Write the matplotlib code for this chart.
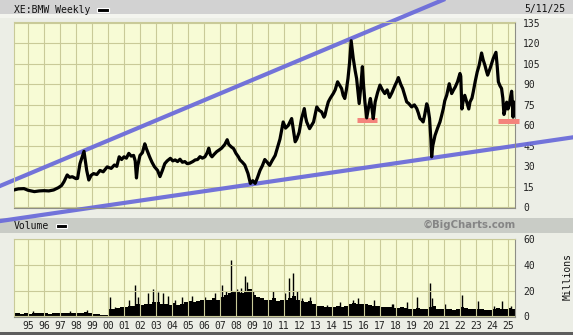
import matplotlib
matplotlib.use("Agg")
import matplotlib.pyplot as plt
from matplotlib.patches import Rectangle
import numpy as np

# weekly close (decimal year, EUR)
price_t = [1994.12, 1994.4, 1994.75, 1995.0, 1995.4, 1995.7, 1996.0, 1996.3, 1996.6, 1996.9,
           1997.1, 1997.25, 1997.45, 1997.6, 1997.77, 1998.0, 1998.1, 1998.25, 1998.4, 1998.5,
           1998.6, 1998.67, 1998.8, 1998.95, 1999.1, 1999.3, 1999.5, 1999.7, 1999.95, 2000.2,
           2000.4, 2000.55, 2000.7, 2000.85, 2001.0, 2001.15, 2001.3, 2001.45, 2001.6, 2001.7,
           2001.78, 2001.85, 2002.0, 2002.15, 2002.3, 2002.4, 2002.6, 2002.75, 2002.9, 2003.1,
           2003.25, 2003.4, 2003.55, 2003.7, 2003.9, 2004.05, 2004.2, 2004.35, 2004.5, 2004.65,
           2004.8, 2004.95, 2005.1, 2005.3, 2005.45, 2005.6, 2005.75, 2005.9, 2006.06, 2006.2,
           2006.3, 2006.4, 2006.5, 2006.65, 2006.8, 2006.95, 2007.1, 2007.3, 2007.45, 2007.55,
           2007.7, 2007.85, 2008.0, 2008.15, 2008.25, 2008.4, 2008.55, 2008.65, 2008.75, 2008.9,
           2009.05, 2009.2, 2009.35, 2009.5, 2009.65, 2009.8, 2009.95, 2010.1, 2010.25, 2010.45,
           2010.6, 2010.75, 2010.95, 2011.1, 2011.27, 2011.4, 2011.48, 2011.6, 2011.7, 2011.8,
           2011.95, 2012.1, 2012.27, 2012.35, 2012.42, 2012.6, 2012.72, 2012.85, 2012.95, 2013.05,
           2013.2, 2013.35, 2013.5, 2013.56, 2013.65, 2013.77, 2013.9, 2014.08, 2014.2, 2014.35,
           2014.5, 2014.6, 2014.7, 2014.8, 2014.9, 2015.0, 2015.1, 2015.2, 2015.27, 2015.33,
           2015.45, 2015.54, 2015.62, 2015.7, 2015.8, 2015.9, 2015.97, 2016.06, 2016.17, 2016.3,
           2016.4, 2016.5, 2016.58, 2016.7, 2016.85, 2017.0, 2017.15, 2017.3, 2017.45, 2017.6,
           2017.75, 2017.94, 2018.05, 2018.15, 2018.3, 2018.42, 2018.55, 2018.67, 2018.8, 2018.98,
           2019.15, 2019.3, 2019.4, 2019.5, 2019.6, 2019.7, 2019.8, 2019.92, 2020.0, 2020.1,
           2020.18, 2020.23, 2020.3, 2020.44, 2020.6, 2020.75, 2020.85, 2020.96, 2021.05, 2021.17,
           2021.33, 2021.48, 2021.6, 2021.7, 2021.85, 2022.0, 2022.05, 2022.12, 2022.2, 2022.3,
           2022.45, 2022.55, 2022.63, 2022.75, 2022.83, 2022.95, 2023.08, 2023.2, 2023.35, 2023.45,
           2023.56, 2023.65, 2023.73, 2023.8, 2023.88, 2024.0, 2024.08, 2024.25, 2024.33, 2024.4,
           2024.5, 2024.6, 2024.68, 2024.75, 2024.85, 2024.92, 2025.0, 2025.08, 2025.18, 2025.23,
           2025.28, 2025.32, 2025.36]
price = [12.7, 13.5, 13.7, 12.5, 11.5, 12.0, 12.2, 12.0, 12.7, 14.4,
         16.0, 18.8, 23.7, 22.0, 22.4, 21.0, 21.2, 32.0, 37.5, 41.0,
         33.0, 27.0, 20.0, 23.5, 24.7, 24.0, 27.0, 26.0, 29.6, 28.5,
         31.0, 30.0, 37.0, 35.0, 37.0, 36.0, 39.5, 37.5, 38.0, 34.0,
         21.5, 30.0, 38.0, 40.0, 46.5, 43.0, 37.0, 33.0, 29.8, 27.0,
         22.5, 27.0, 32.0, 34.0, 35.9, 34.0, 34.7, 33.5, 35.2, 33.0,
         33.5, 32.0, 32.3, 33.5, 34.7, 35.0, 37.1, 36.0, 37.0, 40.0,
         43.3, 38.5, 37.0, 39.0, 40.8, 42.0, 43.3, 46.0, 49.5, 46.0,
         44.3, 43.0, 39.5, 37.0, 34.7, 33.0, 31.0, 28.0, 24.8, 17.5,
         19.5, 17.5, 22.0, 27.0, 30.5, 35.0, 33.0, 30.7, 34.0, 38.0,
         44.0, 50.0, 62.5, 58.0, 60.0, 63.0, 65.0, 56.0, 48.0, 50.0,
         55.0, 65.0, 72.3, 66.0, 62.5, 57.6, 60.0, 62.5, 68.0, 73.5,
         71.0, 69.9, 66.0, 67.4, 72.0, 77.2, 80.0, 83.3, 86.0, 91.9,
         89.0, 87.0, 82.0, 79.7, 86.0, 94.3, 106.0, 122.0, 115.0, 109.0,
         100.0, 94.3, 85.0, 76.0, 88.0, 103.0, 90.0, 77.0, 65.5, 74.0,
         79.7, 72.3, 65.0, 77.2, 84.0, 89.5, 86.0, 83.3, 86.0, 80.5,
         84.0, 89.3, 92.0, 95.0, 90.0, 87.0, 82.0, 77.2, 76.0, 73.5,
         75.0, 72.3, 69.0, 65.0, 64.0, 62.5, 68.0, 75.8, 73.0, 65.0,
         50.0, 37.0, 45.0, 52.6, 58.0, 62.5, 67.0, 72.3, 78.0, 82.0,
         90.5, 83.3, 86.0, 88.0, 92.0, 98.0, 96.0, 72.0, 78.0, 82.0,
         76.0, 72.0, 77.2, 80.0, 84.5, 92.0, 99.2, 104.0, 113.0, 108.0,
         104.0, 100.0, 96.8, 99.0, 101.6, 106.0, 109.0, 113.5, 103.0, 91.9,
         89.0, 87.0, 80.0, 68.0, 73.0, 77.0, 72.0, 74.6, 82.0, 85.0,
         76.0, 66.0, 77.0]

# volume, millions: quarterly base level from 1994 Q1
vol_start = 1994.0
vol_level = [2.5, 2.8, 2.2, 2.5, 2.3, 2.6, 2.4, 2.8, 2.5, 2.3, 2.6, 2.4,
             2.7, 3.0, 2.5, 2.6, 2.8, 3.0, 3.2, 2.7, 2.0, 1.8, 1.4, 1.2,
             6.0, 5.5, 6.5, 7.0, 7.0, 8.0, 8.5, 10.0, 9.0, 10.0, 9.5, 11.0,
             11.0, 9.5, 10.0, 9.0, 10.5, 9.0, 10.0, 11.0, 12.0, 11.0, 12.0, 13.0,
             13.0, 12.5, 14.0, 13.0, 15.0, 17.0, 18.0, 19.0, 20.0, 18.0, 19.0, 21.0,
             17.0, 15.0, 14.0, 13.0, 13.0, 14.0, 12.0, 12.5, 13.0, 14.0, 16.0, 13.0,
             12.0, 11.5, 12.0, 10.0, 8.0, 8.0, 7.5, 7.0, 7.5, 8.0, 7.5, 8.5,
             10.0, 10.5, 10.0, 9.5, 9.5, 9.0, 8.5, 8.0, 7.5, 7.0, 7.0, 6.5,
             6.5, 7.0, 6.5, 6.0, 6.0, 6.5, 6.0, 5.5, 7.0, 8.0, 6.0, 5.5,
             5.5, 5.5, 5.0, 5.5, 7.0, 6.5, 6.0, 5.5, 6.0, 5.5, 5.0, 5.0,
             5.5, 6.5, 6.0, 6.0, 6.5, 6.0]
# single heavy weeks
spike_t = [1995.3, 1997.6, 1998.7, 2000.1, 2000.45, 2001.3, 2001.7, 2001.9, 2002.5, 2002.8,
           2003.1, 2003.45, 2003.75, 2004.2, 2004.6, 2005.25, 2006.05, 2006.7, 2007.1, 2007.4,
           2007.7, 2008.05, 2008.3, 2008.56, 2008.7, 2009.05, 2009.33, 2010.33, 2011.06, 2011.33,
           2011.58, 2011.8, 2012.1, 2012.6, 2013.67, 2014.5, 2015.33, 2015.65, 2016.6, 2017.73,
           2017.83, 2018.67, 2019.3, 2020.12, 2020.27, 2021.06, 2022.15, 2023.15, 2024.1, 2024.65,
           2025.2]
spike_v = [4.0, 4.5, 5.0, 15.0, 7.5, 13.0, 24.0, 15.0, 18.0, 21.0,
           19.0, 18.0, 16.0, 13.0, 15.0, 16.0, 15.0, 18.0, 24.0, 20.0,
           44.0, 21.0, 22.0, 31.0, 27.0, 20.0, 15.0, 20.0, 18.0, 30.0,
           34.0, 20.0, 14.0, 15.0, 9.0, 11.0, 13.0, 14.0, 13.0, 10.0,
           10.0, 11.0, 15.0, 26.0, 14.0, 10.0, 17.0, 12.0, 8.0, 12.0,
           8.0]

# hand-drawn annotations (year, price)
upper_trend = ([1993.0, 2022.0], [14.4, 157.1])
lower_trend = ([1993.0, 2029.5], [-10.5, 52.0])
support_bars = [(2015.56, 2016.81, 63.6), (2024.36, 2025.7, 63.3)]

years = list(range(1995, 2026))
year_labels = ["%02d" % (y % 100) for y in years]
price_ticks = list(range(0, 136, 15))
vol_ticks = [0, 20, 40, 60]

W, H = 573, 335
BG = "#eceee6"
PLOT_BG = "#f7fbd5"
GRID = "#c9ca98"
MONO = "DejaVu Sans Mono"

fig = plt.figure(figsize=(W / 100, H / 100), dpi=100)
fig.patch.set_facecolor(BG)

def band(y0, y1, color):
    fig.patches.append(Rectangle((0, 1 - y1 / H), 1, (y1 - y0) / H, transform=fig.transFigure,
                                 facecolor=color, edgecolor="none", zorder=-1))

band(0, 14, "#d2d2d2")
band(14, 18, "#f4f5ef")
band(218, 233, "#c9ccc6")
band(332, 335, "#5e5e5e")

ax = fig.add_axes([14 / W, 1 - 208 / H, 501 / W, 186 / H])
ax2 = fig.add_axes([14 / W, 1 - 317 / H, 501 / W, 78 / H])

for a in (ax, ax2):
    a.set_facecolor(PLOT_BG)
    a.set_xlim(1994.125, 2025.44)
    a.set_xticks(years)
    a.grid(True, color=GRID, lw=0.8)
    a.yaxis.tick_right()
    a.tick_params(length=0, labelsize=7, pad=6, colors="#222222")
    for s in ("top", "left"):
        a.spines[s].set_color(GRID)
    for s in ("bottom", "right"):
        a.spines[s].set_color("#8e8e86")

ax.set_ylim(-0.5, 135.7)
ax.set_yticks(price_ticks)
ax.set_yticklabels([str(v) for v in price_ticks], family=MONO, ha="left")
ax.set_xticklabels([])

ax.plot(upper_trend[0], upper_trend[1], color="#6c6cda", lw=3.0, alpha=0.95,
        solid_capstyle="butt", clip_on=False, zorder=2)
ax.plot(lower_trend[0], lower_trend[1], color="#6c6cda", lw=3.0, alpha=0.95,
        solid_capstyle="butt", clip_on=False, zorder=2)
for x0, x1, lvl in support_bars:
    ax.hlines(lvl, x0, x1, color="#f4847c", lw=3.6, clip_on=False, zorder=3)
ax.plot(price_t, price, color="black", lw=2.3, zorder=4)

vol_t = vol_start + 0.25 * np.arange(len(vol_level))
ax2.set_axisbelow(False)
ax2.bar(vol_t, vol_level, width=0.25, align="edge", color="black", lw=0, zorder=1)
ax2.vlines(spike_t, 0, spike_v, color="black", lw=1.0, zorder=1)
ax2.set_ylim(-0.4, 60)
ax2.set_yticks(vol_ticks)
ax2.set_yticklabels([str(v) for v in vol_ticks], family=MONO, ha="left")
ax2.set_xticklabels(year_labels, family=MONO)
ax2.tick_params(axis="x", pad=3)

fig.text(14 / W, 1 - 10 / H, "XE:BMW Weekly", family=MONO, fontsize=7, va="center", color="#111111")
fig.patches.append(Rectangle((97 / W, 1 - 12 / H), 12 / W, 4 / H, transform=fig.transFigure,
                             facecolor="black", edgecolor="white", lw=0.8))
fig.text(524 / W, 1 - 9 / H, "5/11/25", family=MONO, fontsize=7, va="center", color="#111111")
fig.text(14 / W, 1 - 226 / H, "Volume", family=MONO, fontsize=7, va="center", color="#111111")
fig.patches.append(Rectangle((56 / W, 1 - 228 / H), 11 / W, 4 / H, transform=fig.transFigure,
                             facecolor="black", edgecolor="white", lw=0.8))
fig.text(469 / W, 1 - 225 / H, "\u00a9BigCharts.com", family="DejaVu Sans", fontsize=7.3,
         weight="bold", color="#858585", ha="center", va="center")
fig.text(568 / W, 1 - 276 / H, "Millions", family=MONO, fontsize=7, rotation=90,
         ha="center", va="center", color="#111111")

fig.savefig("out.png", dpi=100, facecolor=fig.get_facecolor())
